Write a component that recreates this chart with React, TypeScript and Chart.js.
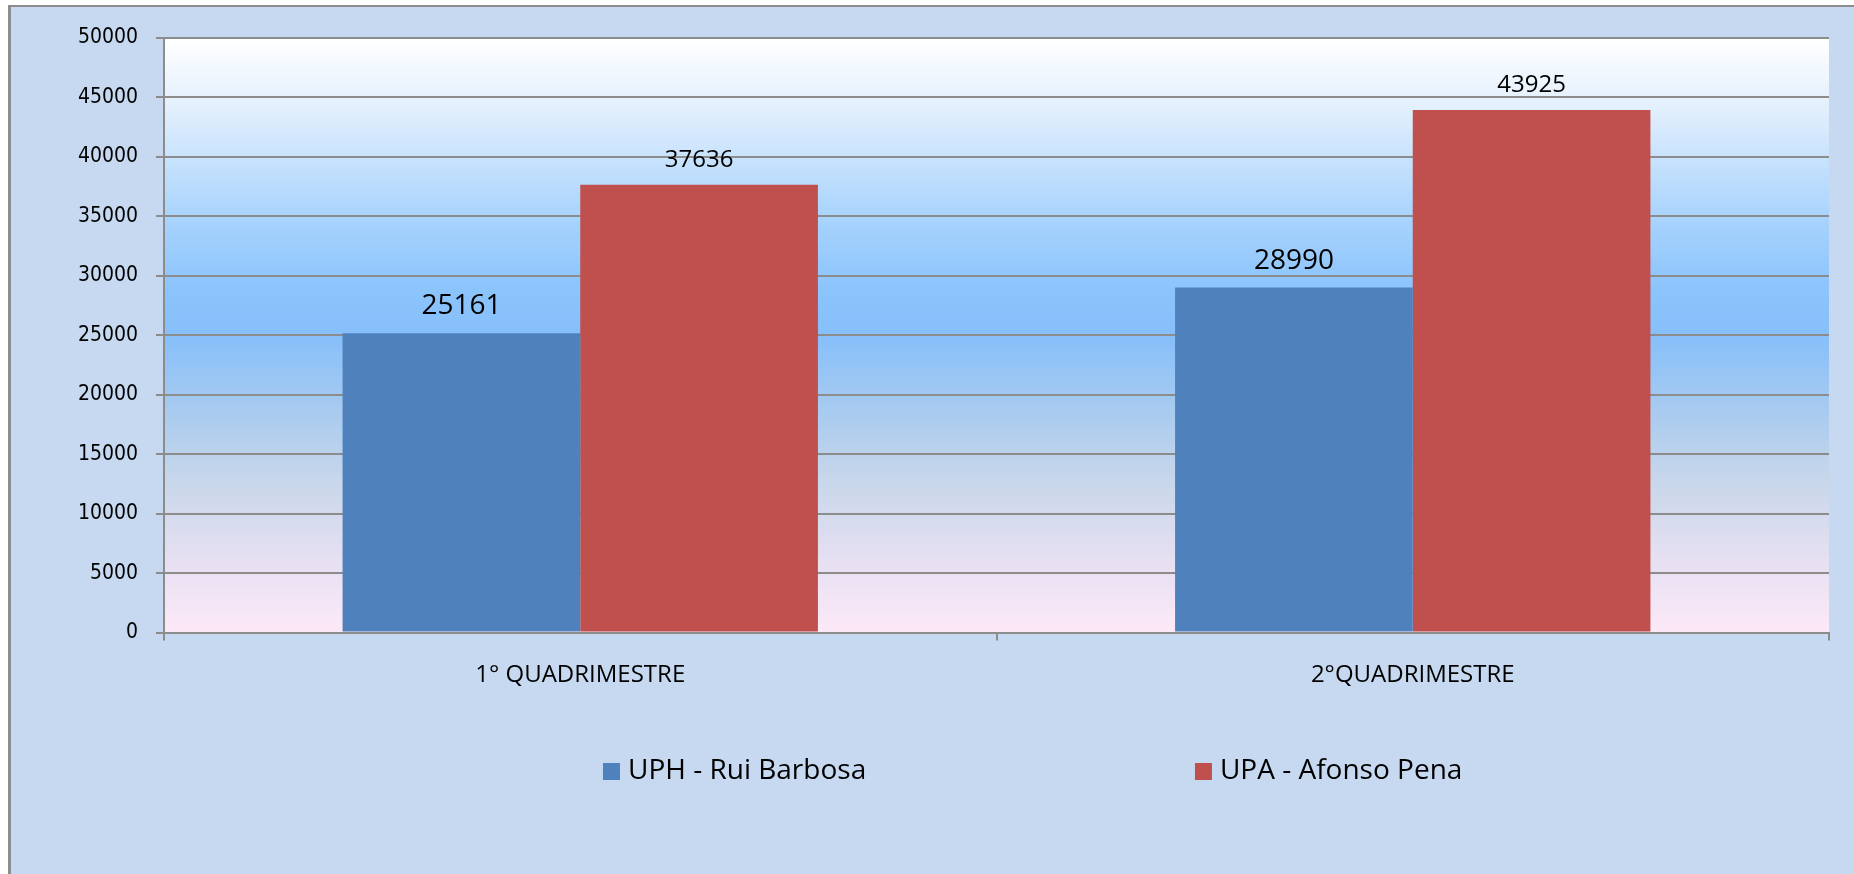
import React, { useEffect, useRef } from "react";
import { Chart, registerables } from "chart.js";

Chart.register(...registerables);

const categories = ["1° QUADRIMESTRE", "2°QUADRIMESTRE"];
const seriesNames = ["UPH - Rui Barbosa", "UPA - Afonso Pena"];
const uphValues = [25161, 28990];
const upaValues = [37636, 43925];
const seriesColors = ["#4f81bd", "#c0504d"];
const labelFontSizes = [28, 24];
const yMin = 0;
const yMax = 50000;
const yStep = 5000;

const CANVAS_W = 1843;
const CANVAS_H = 867;

const bgPlugin = {
  id: "plotBg",
  beforeDraw(chart: any) {
    const { ctx, chartArea } = chart;
    if (!chartArea) return;
    const g = ctx.createLinearGradient(0, chartArea.top, 0, chartArea.bottom);
    g.addColorStop(0, "#ffffff");
    g.addColorStop(0.12, "#e2effd");
    g.addColorStop(0.3, "#a9d4fd");
    g.addColorStop(0.42, "#8cc4fc");
    g.addColorStop(0.5, "#86bffa");
    g.addColorStop(0.62, "#a6caf0");
    g.addColorStop(0.75, "#c9d7ea");
    g.addColorStop(0.88, "#e6e0f2");
    g.addColorStop(1, "#fde9f8");
    ctx.save();
    ctx.fillStyle = g;
    ctx.fillRect(chartArea.left, chartArea.top, chartArea.right - chartArea.left, chartArea.bottom - chartArea.top);
    ctx.restore();
  },
};

const valueLabelPlugin = {
  id: "valueLabels",
  afterDatasetsDraw(chart: any) {
    const { ctx } = chart;
    chart.data.datasets.forEach((ds: any, di: number) => {
      const meta = chart.getDatasetMeta(di);
      meta.data.forEach((bar: any, i: number) => {
        ctx.save();
        ctx.font = `${labelFontSizes[di]}px 'Open Sans'`;
        ctx.fillStyle = "#000";
        ctx.textAlign = "center";
        ctx.textBaseline = "alphabetic";
        ctx.fillText(String(ds.data[i]), bar.x, bar.y - (di === 0 ? 19 : 18));
        ctx.restore();
      });
    });
  },
};

const legendPlugin = {
  id: "customLegend",
  afterDraw(chart: any) {
    const { ctx, width } = chart;
    const cy = 764;
    const starts = [width * 0.3212, width * 0.6424];
    chart.data.datasets.forEach((ds: any, di: number) => {
      const x = starts[di];
      ctx.save();
      ctx.fillStyle = ds.backgroundColor;
      ctx.fillRect(x, cy - 8, 17, 17);
      ctx.font = "28px 'Open Sans'";
      ctx.fillStyle = "#000";
      ctx.textAlign = "left";
      ctx.textBaseline = "middle";
      ctx.fillText(ds.label, x + 25, cy);
      ctx.restore();
    });
  },
};

export default function App() {
  const canvasRef = useRef<HTMLCanvasElement | null>(null);

  useEffect(() => {
    if (!canvasRef.current) return;
    const chart = new Chart(canvasRef.current, {
      type: "bar",
      data: {
        labels: categories,
        datasets: [
          { label: seriesNames[0], data: uphValues, backgroundColor: seriesColors[0] },
          { label: seriesNames[1], data: upaValues, backgroundColor: seriesColors[1] },
        ],
      },
      options: {
        responsive: false,
        animation: false,
        devicePixelRatio: 1,
        layout: { padding: { top: 28, right: 25, bottom: 180, left: 0 } },
        datasets: {
          bar: { categoryPercentage: 0.571, barPercentage: 1, borderWidth: 0 },
        },
        plugins: {
          legend: { display: false },
          tooltip: { enabled: false },
          title: { display: false },
        },
        scales: {
          x: {
            grid: {
              display: true,
              drawOnChartArea: false,
              drawTicks: true,
              tickLength: 8,
              color: "#8c8c8c",
              lineWidth: 2,
              offset: true,
            },
            border: { display: true, color: "#8c8c8c", width: 2 },
            ticks: {
              color: "#000",
              padding: 20,
              font: { family: "'Open Sans'", size: 24 },
              maxRotation: 0,
            },
            afterFit(scale: any) {
              scale.height = 61.4;
            },
          },
          y: {
            min: yMin,
            max: yMax,
            grid: {
              color: "#8c8c8c",
              lineWidth: 2,
              tickLength: 8,
              drawTicks: true,
            },
            border: { display: true, color: "#8c8c8c", width: 2 },
            ticks: {
              stepSize: yStep,
              color: "#000",
              padding: 18,
              font: { family: "'DejaVu Sans Condensed', 'DejaVu Sans'", size: 21 },
              callback: (v: any) => String(v),
            },
            afterFit(scale: any) {
              scale.width = 153;
            },
          },
        },
      },
      plugins: [bgPlugin, valueLabelPlugin, legendPlugin],
    });
    return () => chart.destroy();
  }, []);

  return (
    <div
      style={{
        position: "fixed",
        left: 8,
        top: 5,
        width: 1900,
        height: 900,
        background: "#c6d9f0",
        borderLeft: "3px solid #8c8c8c",
        borderTop: "2px solid #8c8c8c",
      }}
    >
      <canvas
        ref={canvasRef}
        width={CANVAS_W}
        height={CANVAS_H}
        style={{ display: "block", width: CANVAS_W, height: CANVAS_H }}
      />
    </div>
  );
}
